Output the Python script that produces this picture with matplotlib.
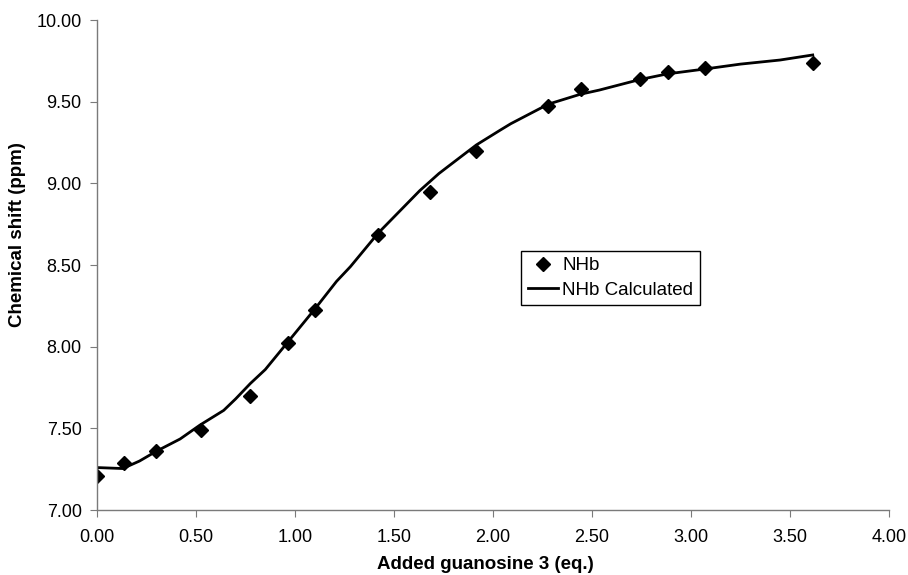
import numpy as np
import matplotlib
matplotlib.use('Agg')
import matplotlib.pyplot as plt

plt.rcParams['font.family'] = ['Liberation Sans', 'DejaVu Sans']

# measured points (NHb)
eq_obs = [0.00, 0.135, 0.30, 0.525, 0.775, 0.965, 1.10, 1.42, 1.68, 1.915,
          2.28, 2.445, 2.745, 2.885, 3.07, 3.615]
shift_obs = [7.21, 7.29, 7.36, 7.49, 7.70, 8.02, 8.225, 8.683, 8.945, 9.198,
             9.473, 9.576, 9.639, 9.68, 9.704, 9.735]

# fitted curve (NHb Calculated)
eq_calc = [0.00, 0.13, 0.215, 0.30, 0.42, 0.52, 0.64, 0.70, 0.775, 0.85,
           0.965, 1.10, 1.21, 1.28, 1.42, 1.63, 1.727, 1.783, 1.916, 2.037,
           2.09, 2.28, 2.44, 2.537, 2.74, 2.88, 3.07, 3.25, 3.45, 3.615]
shift_calc = [7.26, 7.254, 7.30, 7.36, 7.435, 7.52, 7.61, 7.68, 7.775, 7.86,
              8.03, 8.23, 8.40, 8.49, 8.695, 8.955, 9.06, 9.112, 9.235, 9.326,
              9.365, 9.485, 9.545, 9.571, 9.635, 9.67, 9.70, 9.73, 9.755, 9.786]

fig = plt.figure(figsize=(9.08, 5.75), dpi=100)
ax = fig.add_axes([0.1068, 0.113, 0.8722, 0.8522])

ax.plot(eq_obs, shift_obs, 'D', color='black', markersize=7.5, label='NHb')
ax.plot(eq_calc, shift_calc, '-', color='black', linewidth=2, label='NHb Calculated')

ax.set_xlim(0, 4)
ax.set_ylim(7, 10)
ax.set_xticks(np.arange(0, 4.01, 0.5))
ax.set_yticks(np.arange(7, 10.01, 0.5))
ax.xaxis.set_major_formatter(matplotlib.ticker.FormatStrFormatter('%.2f'))
ax.yaxis.set_major_formatter(matplotlib.ticker.FormatStrFormatter('%.2f'))

for s in ['top', 'right']:
    ax.spines[s].set_visible(False)
for s in ['left', 'bottom']:
    ax.spines[s].set_color('#7a7a7a')
    ax.spines[s].set_linewidth(1)
ax.tick_params(direction='out', length=5, color='#7a7a7a', labelsize=13)
ax.tick_params(axis='x', pad=9)
ax.tick_params(axis='y', pad=6)

ax.set_xlabel('Added guanosine 3 (eq.)', fontsize=13.5, fontweight='bold')
ax.set_ylabel('Chemical shift (ppm)', fontsize=13.5, fontweight='bold')
ax.xaxis.set_label_coords(0.49, -0.093)
ax.yaxis.set_label_coords(-0.089, 0.563)

leg = ax.legend(loc='upper left', bbox_to_anchor=(0.536, 0.5286), fontsize=13.5,
                fancybox=False, framealpha=1, edgecolor='black',
                borderaxespad=0, handlelength=1.6, handletextpad=0.25,
                borderpad=0.33, labelspacing=0.4)
leg.get_frame().set_linewidth(1)

fig.savefig('out.png', dpi=100)
